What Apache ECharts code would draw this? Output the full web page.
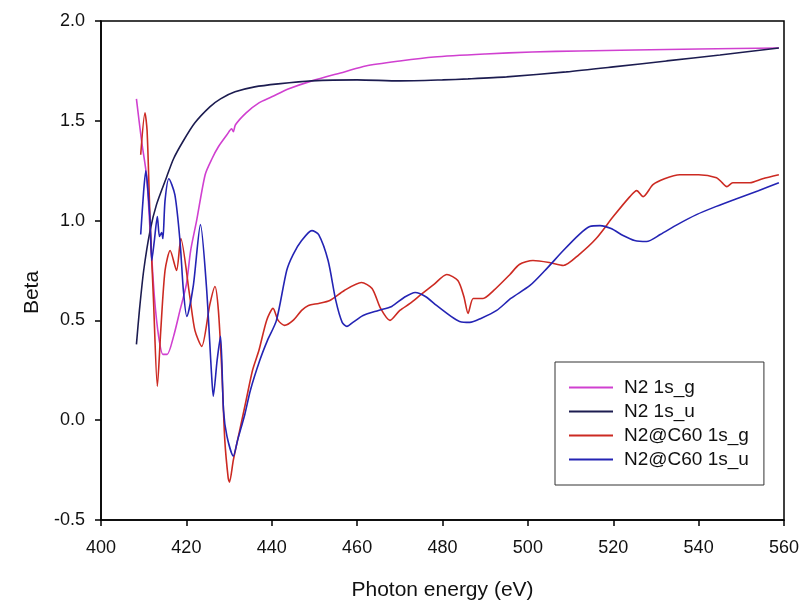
<!DOCTYPE html>
<html>
<head>
<meta charset="utf-8">
<script src="https://cdn.jsdelivr.net/npm/echarts@6/dist/echarts.min.js"></script>
<style>
  html, body { margin: 0; padding: 0; background: #fff; }
  #chart { width: 810px; height: 603px; }
</style>
</head>
<body>
<div id="chart"></div>
<script>
// [photon energy (eV), beta]
var n2_1sg = [
  [408.3, 1.61], [409.5, 1.40], [410.7, 1.22], [411.5, 0.95], [412.5, 0.62],
  [413.5, 0.42], [414.5, 0.33], [415.5, 0.33], [417, 0.42], [418.5, 0.55],
  [420, 0.68], [421, 0.85], [422.4, 1.00], [424.4, 1.23], [426, 1.31],
  [427.5, 1.37], [429.5, 1.43], [430.6, 1.46], [431, 1.445], [431.5, 1.48],
  [434, 1.54], [437, 1.59], [440, 1.62], [444, 1.66], [449.4, 1.70],
  [457, 1.745], [462, 1.775], [470, 1.80], [478, 1.82], [490, 1.835],
  [501, 1.845], [512, 1.85], [525, 1.855], [540, 1.86], [558.8, 1.865]
];
var n2_1su = [
  [408.3, 0.38], [409, 0.55], [410, 0.75], [411.5, 0.95], [413, 1.08],
  [415.4, 1.22], [417, 1.31], [419.3, 1.40], [422, 1.49], [425.5, 1.57],
  [428, 1.61], [431.4, 1.645], [436, 1.67], [441.5, 1.685], [449.4, 1.70],
  [460, 1.705], [470, 1.70], [480, 1.705], [486, 1.71], [495, 1.72],
  [509, 1.745], [520, 1.77], [532.5, 1.80], [545, 1.83], [558.8, 1.865]
];
var c60_1sg = [
  [409.3, 1.33], [410.3, 1.54], [410.8, 1.45], [411.5, 1.0], [412.3, 0.6],
  [413.2, 0.17], [414, 0.45], [415, 0.75], [416.2, 0.85], [417.7, 0.75],
  [418.7, 0.91], [420.8, 0.62], [422, 0.45], [423.6, 0.37], [425.5, 0.58],
  [426.7, 0.67], [427.5, 0.55], [428.3, 0.25], [429, -0.1], [429.8, -0.29],
  [430.1, -0.31], [431, -0.2], [432.5, -0.05], [434, 0.1], [435.5, 0.25],
  [437, 0.35], [438.8, 0.5], [440.3, 0.56], [441.5, 0.5], [443, 0.475],
  [445, 0.5], [447, 0.55], [448.6, 0.575], [451, 0.585], [453.6, 0.6],
  [457, 0.65], [461, 0.69], [463.5, 0.66], [465.5, 0.56], [467.7, 0.50],
  [470, 0.55], [472.4, 0.585], [475, 0.63], [478, 0.68], [481, 0.73],
  [483.6, 0.70], [485, 0.62], [486, 0.535], [487.2, 0.61], [489.5, 0.61],
  [492, 0.65], [495.8, 0.73], [498, 0.78], [501.2, 0.80], [505, 0.79],
  [508.3, 0.775], [512, 0.83], [516, 0.91], [520, 1.02], [523.9, 1.12],
  [525.5, 1.15], [527, 1.12], [529.3, 1.18], [532, 1.21], [535.6, 1.23],
  [540, 1.23], [544.2, 1.215], [545.5, 1.19], [546.6, 1.17], [548, 1.19],
  [552, 1.19], [555, 1.21], [558.8, 1.23]
];
var c60_1su = [
  [409.3, 0.93], [410, 1.15], [410.5, 1.25], [411, 1.15], [411.5, 1.0],
  [411.9, 0.80], [412.5, 0.9], [413.2, 1.02], [413.7, 0.92], [414.2, 0.94],
  [414.5, 0.91], [415, 1.1], [415.9, 1.21], [417.3, 1.13], [418.5, 0.90],
  [419.3, 0.65], [420.1, 0.52], [421.6, 0.67], [423.3, 0.98], [424.7, 0.67],
  [425.9, 0.23], [426.3, 0.12], [427.2, 0.3], [428, 0.42], [428.7, 0.05],
  [429.5, -0.08], [431, -0.18], [432, -0.1], [433.7, 0.03], [435, 0.15],
  [437.2, 0.3], [439, 0.4], [441.1, 0.5], [443.5, 0.75], [445, 0.83],
  [447, 0.9], [449.4, 0.95], [451, 0.93], [453.2, 0.80], [455, 0.6],
  [456.5, 0.49], [457.6, 0.47], [459, 0.49], [461.4, 0.525], [465, 0.55],
  [468.1, 0.57], [471, 0.615], [473.6, 0.64], [476, 0.62], [478.6, 0.575],
  [482, 0.52], [484, 0.495], [486.4, 0.49], [489, 0.51], [492.7, 0.55],
  [496, 0.61], [500.5, 0.675], [504, 0.75], [508.3, 0.85], [512, 0.93],
  [514.5, 0.97], [516.9, 0.975], [519.5, 0.96], [522.3, 0.925], [525, 0.9],
  [527.8, 0.895], [531, 0.93], [535, 0.98], [539.5, 1.03], [544, 1.07],
  [548.9, 1.11], [554, 1.15], [558.8, 1.19]
];

var seriesNames = ['N2 1s_g', 'N2 1s_u', 'N2@C60 1s_g', 'N2@C60 1s_u'];
var seriesColors = ['#d040d0', '#1c1c50', '#cc2a22', '#2424b4'];
var seriesData = [n2_1sg, n2_1su, c60_1sg, c60_1su];

var font = 'Liberation Sans, Arial, sans-serif';

var chart = echarts.init(document.getElementById('chart'));

var series = [];
for (var i = 0; i < seriesData.length; i++) {
    series.push({
        name: seriesNames[i],
        type: 'line',
        data: seriesData[i],
        smooth: 0.25,
        showSymbol: false,
        lineStyle: { color: seriesColors[i], width: 1.6 },
        itemStyle: { color: seriesColors[i] }
    });
}

var option = {
    backgroundColor: '#fff',
    animation: false,
    grid: {
        left: 101, right: 26, top: 21, bottom: 83,
        outerBoundsMode: 'none',
        containLabel: false,
        show: true, borderColor: '#000', borderWidth: 1.5
    },
    xAxis: {
        type: 'value',
        min: 400, max: 560, interval: 20,
        name: 'Photon energy (eV)',
        nameLocation: 'middle',
        nameGap: 60,
        nameTextStyle: { fontFamily: font, fontSize: 21, color: '#111' },
        axisLine: { onZero: false, lineStyle: { color: '#000', width: 1.5 } },
        axisTick: { inside: false, length: 6, lineStyle: { color: '#000', width: 1.5 } },
        axisLabel: { fontFamily: font, fontSize: 18, color: '#111', margin: 19 },
        splitLine: { show: false }
    },
    yAxis: {
        type: 'value',
        min: -0.5, max: 2.0, interval: 0.5,
        name: 'Beta',
        nameLocation: 'middle',
        nameGap: 58,
        nameTextStyle: { fontFamily: font, fontSize: 21, color: '#111', padding: [0, 44, 0, 0] },
        axisLine: { show: true, onZero: false, lineStyle: { color: '#000', width: 1.5 } },
        axisTick: { show: true, inside: false, length: 6, lineStyle: { color: '#000', width: 1.5 } },
        axisLabel: {
            fontFamily: font, fontSize: 18, color: '#111', margin: 16,
            formatter: function (v) { return v.toFixed(1); }
        },
        splitLine: { show: false }
    },
    legend: {
        orient: 'vertical',
        left: 555, top: 362,
        padding: [16, 15, 16, 14],
        itemWidth: 44, itemHeight: 2,
        itemGap: 5,
        icon: 'rect',
        backgroundColor: '#fff',
        borderColor: '#333', borderWidth: 1,
        textStyle: { fontFamily: font, fontSize: 19, color: '#111', padding: [0, 0, 0, 6] },
        data: seriesNames
    },
    series: series
};
chart.setOption(option);
</script>
</body>
</html>
